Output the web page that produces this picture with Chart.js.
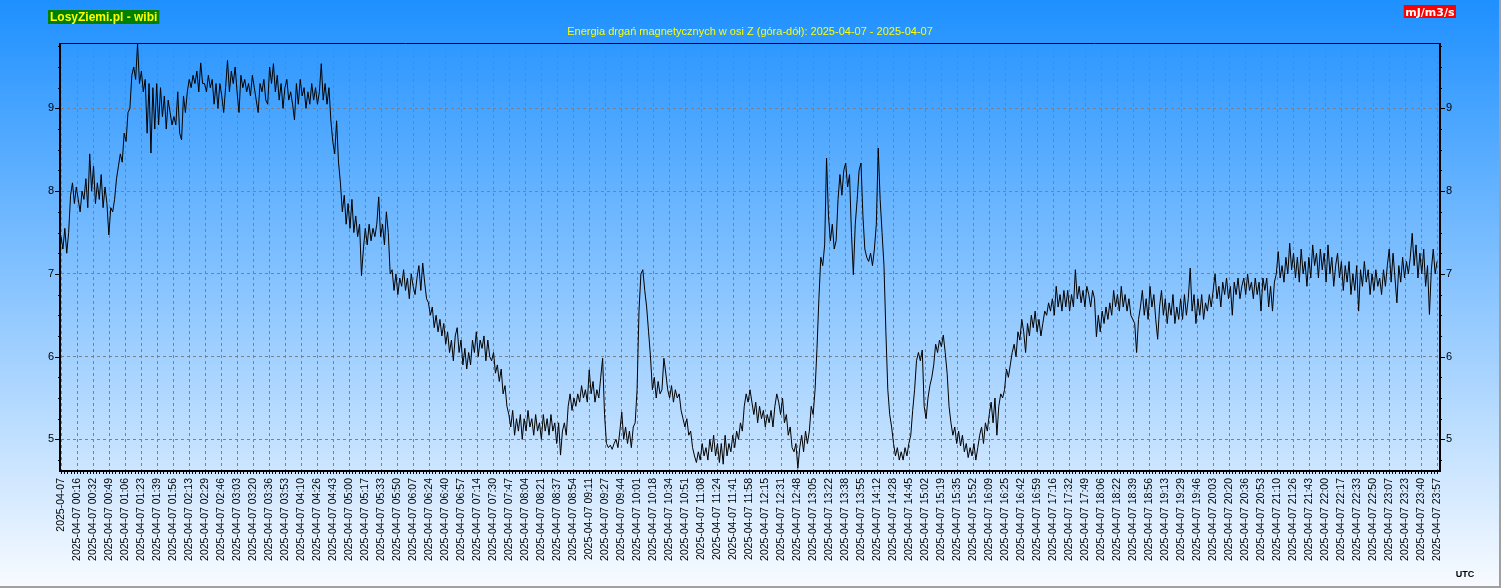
<!DOCTYPE html>
<html>
<head>
<meta charset="utf-8">
<script src="https://cdn.jsdelivr.net/npm/chart.js@4/dist/chart.umd.min.js"></script>
<style>
  html, body { margin: 0; padding: 0; background: #fff; }
  canvas { display: block; }
</style>
</head>
<body>
<canvas id="chart" width="1501" height="588"></canvas>
<script>
const siteLabel = 'LosyZiemi.pl - wibi';
const unitLabel = 'mJ/m3/s';
const titleText = 'Energia drgań magnetycznych w osi Z (góra-dół): 2025-04-07 - 2025-04-07';
const day = '2025-04-07';

// one reading every 2 minutes, each row is half an hour
const sampleStep = 2;

const energyNight = [ // 00:00 - 05:58
  7.45, 7.3, 7.55, 7.25, 7.5, 7.95, 8.1, 7.85, 8.05, 7.9, 7.75, 8.0, 7.9, 8.15, 7.8,
  8.45, 8.0, 8.3, 7.85, 8.1, 7.9, 8.2, 7.8, 8.05, 7.85, 7.47, 7.8, 7.75, 7.9, 8.15,
  8.3, 8.45, 8.35, 8.7, 8.6, 8.95, 9.0, 9.4, 9.5, 9.35, 9.78, 9.3, 9.45, 9.2, 9.35,
  8.7, 9.3, 8.46, 9.25, 8.75, 9.3, 8.8, 9.25, 8.9, 9.15, 8.75, 9.1, 8.95, 8.8, 8.9,
  8.8, 9.2, 8.7, 8.62, 9.15, 8.95, 9.2, 9.35, 9.25, 9.4, 9.3, 9.45, 9.2, 9.55, 9.3,
  9.3, 9.2, 9.4, 9.25, 9.35, 9.05, 9.3, 9.0, 9.3, 9.15, 8.95, 9.25, 9.58, 9.2, 9.45,
  9.3, 9.5, 9.2, 8.95, 9.4, 9.25, 9.35, 9.2, 9.3, 9.15, 9.4, 9.25, 9.1, 8.95, 9.3,
  9.2, 9.35, 9.1, 9.05, 9.5, 9.3, 9.54, 9.2, 9.4, 9.1, 9.3, 9.0, 9.25, 9.35, 9.1,
  9.2, 9.05, 8.86, 9.3, 9.05, 9.35, 9.15, 9.25, 9.0, 9.2, 9.05, 9.3, 9.1, 9.25, 9.05,
  9.2, 9.54, 9.1, 9.3, 9.05, 9.25, 8.86, 8.6, 8.45, 8.85, 8.35, 8.1, 7.75, 7.95, 7.6,
  7.85, 7.55, 7.9, 7.5, 7.7, 7.45, 7.6, 6.98, 7.3, 7.55, 7.35, 7.6, 7.4, 7.55, 7.45,
  7.6, 7.93, 7.45, 7.6, 7.35, 7.75, 7.5, 7.0, 7.05, 6.8, 7.0, 6.75, 6.95, 6.85, 7.05
];

const energyMorning = [ // 06:00 - 11:58
  6.8, 6.95, 6.7, 7.0, 6.85, 6.75, 6.95, 7.1, 6.8, 7.13, 6.9, 6.7, 6.65, 6.5, 6.6,
  6.35, 6.5, 6.3, 6.45, 6.25, 6.4, 6.15, 6.3, 6.05, 6.2, 5.95, 6.25, 6.35, 6.05, 6.2,
  5.9, 6.1, 5.85, 6.05, 5.9, 6.2, 6.05, 6.3, 6.0, 6.2, 6.1, 6.25, 5.95, 6.2, 6.0,
  5.95, 6.05, 5.8, 5.9, 5.7, 5.85, 5.55, 5.65, 5.4, 5.3, 5.15, 5.35, 5.05, 5.25, 5.1,
  5.3, 5.0, 5.25, 5.1, 5.35, 5.15, 5.25, 5.05, 5.3, 5.1, 5.2, 5.0, 5.3, 5.1, 5.25,
  5.05, 5.3, 5.1, 5.2, 4.95, 5.2, 4.81, 5.1, 5.2, 5.05, 5.4, 5.55, 5.35, 5.5, 5.4,
  5.55, 5.45, 5.65, 5.5, 5.6, 5.45, 5.84, 5.55, 5.7, 5.45, 5.6, 5.5, 5.75, 5.98, 5.3,
  4.95, 4.9, 4.93, 4.88, 4.95, 5.0, 4.9, 5.1, 5.33, 5.0, 5.15, 4.95, 5.1, 4.9, 5.15,
  5.2, 5.6, 6.55, 7.0, 7.05, 6.8, 6.6, 6.3, 6.0, 5.6, 5.75, 5.5, 5.7, 5.55, 5.6,
  5.98, 5.8, 5.6, 5.5, 5.65, 5.45, 5.6, 5.5, 5.55, 5.35, 5.25, 5.15, 5.25, 5.05, 5.1,
  4.9, 4.8, 4.72, 4.85, 4.75, 4.95, 4.8, 4.9, 4.75, 5.0, 4.85, 5.05, 4.8, 4.95, 4.72,
  4.95, 4.7, 5.05, 4.8, 4.95, 4.85, 5.05, 4.9, 5.1, 5.0, 5.2, 5.1, 5.4, 5.55, 5.45
];

const energyAfternoon = [ // 12:00 - 17:58
  5.6, 5.45, 5.3, 5.45, 5.2, 5.4, 5.25, 5.35, 5.15, 5.3, 5.2, 5.35, 5.15, 5.4, 5.55,
  5.45, 5.3, 5.5, 5.2, 5.3, 5.05, 5.15, 4.9, 4.85, 4.95, 4.65, 4.9, 5.05, 4.85, 5.1,
  4.95, 5.1, 5.4, 5.3, 5.6, 6.1, 6.7, 7.2, 7.1, 7.35, 8.4, 7.7, 7.4, 7.6, 7.3,
  7.4, 7.9, 8.2, 7.95, 8.25, 8.34, 8.05, 8.2, 7.5, 6.99, 7.6, 7.9, 8.25, 8.34, 7.7,
  7.3, 7.2, 7.15, 7.25, 7.1, 7.3, 7.6, 8.52, 7.9, 7.5, 7.1, 6.3, 5.6, 5.3, 5.15,
  4.95, 4.8, 4.9, 4.75, 4.85, 4.75, 4.9, 4.8, 4.95, 5.05, 5.35, 5.6, 5.95, 6.05, 5.95,
  6.08, 5.4, 5.25, 5.5, 5.65, 5.75, 5.9, 6.15, 6.05, 6.2, 6.12, 6.26, 6.05, 5.8, 5.4,
  5.2, 5.05, 5.15, 4.95, 5.1, 4.92, 5.05, 4.85, 4.95, 4.78, 4.9, 4.8, 4.95, 4.75, 4.9,
  5.05, 5.15, 4.95, 5.2, 5.1, 5.3, 5.45, 5.2, 5.5, 5.05, 5.4, 5.55, 5.5, 5.6, 5.85,
  5.75, 5.9, 6.05, 6.15, 6.0, 6.3, 6.2, 6.45, 6.3, 6.05, 6.4, 6.25, 6.5, 6.35, 6.55,
  6.3, 6.45, 6.25, 6.4, 6.55, 6.5, 6.65, 6.55, 6.7, 6.5, 6.85, 6.6, 6.75, 6.55, 6.8,
  6.6, 6.8, 6.55, 6.75, 6.6, 7.05, 6.7, 6.85, 6.65, 6.8, 6.6, 6.85, 6.75, 6.6, 6.8
];

const energyEvening = [ // 18:00 - 23:58
  6.7, 6.24, 6.5, 6.3, 6.55, 6.4, 6.6, 6.45, 6.65, 6.5, 6.8, 6.6, 6.75, 6.55, 6.85,
  6.6, 6.75, 6.55, 6.7, 6.5, 6.45, 6.4, 6.05, 6.45, 6.6, 6.8, 6.5, 6.7, 6.45, 6.85,
  6.6, 6.75, 6.45, 6.21, 6.6, 6.8, 6.5, 6.7, 6.4, 6.65, 6.5, 6.75, 6.4, 6.6, 6.45,
  6.7, 6.45, 6.75, 6.5, 6.7, 7.07, 6.55, 6.75, 6.4, 6.7, 6.5, 6.75, 6.45, 6.65, 6.55,
  6.75, 6.6, 6.8, 7.0, 6.7, 6.85, 6.6, 6.9, 6.75, 6.95, 6.7, 6.85, 6.5, 6.9, 6.75,
  6.95, 6.7, 6.85, 6.95, 6.75, 7.0, 6.8, 6.9, 6.7, 6.95, 6.75, 6.9, 6.55, 6.95, 6.8,
  6.95, 6.6, 6.85, 6.55, 6.9, 7.0, 7.27, 6.95, 7.1, 6.9, 7.2, 7.0, 7.37, 7.05, 7.25,
  6.95, 7.2, 6.9, 7.3, 7.0, 7.15, 6.85, 7.2, 6.95, 7.35, 7.1, 7.25, 6.95, 7.3, 7.05,
  7.25, 6.9, 7.35, 7.0, 7.2, 6.85, 7.1, 7.25, 6.95, 7.15, 6.8, 7.1, 6.9, 7.15, 6.75,
  7.0, 6.8, 7.1, 6.55, 7.05, 6.85, 7.15, 6.9, 7.05, 6.75, 7.0, 6.8, 7.05, 6.85, 6.95,
  6.75, 7.05, 6.85, 7.1, 7.3, 6.9, 7.25, 6.95, 6.65, 7.1, 6.9, 7.2, 6.95, 7.15, 7.0,
  7.2, 7.49, 7.1, 7.35, 6.95, 7.25, 7.0, 7.3, 6.85, 7.1, 6.51, 7.05, 7.3, 7.0, 7.15
];

// time labels under the x axis, first one shows only the date
const tickTimes = ['',
  '00:16', '00:32', '00:49', '01:06', '01:23', '01:39', '01:56', '02:13', '02:29', '02:46',
  '03:03', '03:20', '03:36', '03:53', '04:10', '04:26', '04:43', '05:00', '05:17', '05:33',
  '05:50', '06:07', '06:24', '06:40', '06:57', '07:14', '07:30', '07:47', '08:04', '08:21',
  '08:37', '08:54', '09:11', '09:27', '09:44', '10:01', '10:18', '10:34', '10:51', '11:08',
  '11:24', '11:41', '11:58', '12:15', '12:31', '12:48', '13:05', '13:22', '13:38', '13:55',
  '14:12', '14:28', '14:45', '15:02', '15:19', '15:35', '15:52', '16:09', '16:25', '16:42',
  '16:59', '17:16', '17:32', '17:49', '18:06', '18:22', '18:39', '18:56', '19:13', '19:29',
  '19:46', '20:03', '20:20', '20:36', '20:53', '21:10', '21:26', '21:43', '22:00', '22:17',
  '22:33', '22:50', '23:07', '23:23', '23:40', '23:57'
];
const tickStep = 16.72; // minutes between labels
const yTicks = [5, 6, 7, 8, 9];
const yMin = 4.63;
const yMax = 9.79;

const energy = [...energyNight, ...energyMorning, ...energyAfternoon, ...energyEvening];
const points = energy.map((v, i) => ({ x: i * sampleStep, y: v }));

const FONT = 'Arial, "Liberation Sans", sans-serif';

const decor = {
  id: 'decor',
  beforeDraw(chart) {
    const { ctx, width, height } = chart;
    const g = ctx.createLinearGradient(0, 0, 0, height);
    g.addColorStop(0, '#1e90ff');
    g.addColorStop(1, '#f8fbff');
    ctx.save();
    ctx.fillStyle = g;
    ctx.fillRect(0, 0, width, height);
    ctx.restore();
  },
  afterDatasetsDraw(chart) {
    const { ctx, chartArea: a, scales: { x, y } } = chart;
    ctx.save();
    ctx.strokeStyle = '#000';
    ctx.lineWidth = 1;
    ctx.beginPath();
    for (let v = 4.75; v <= yMax; v += 0.25) {
      const py = Math.round(y.getPixelForValue(v)) + 0.5;
      const len = Number.isInteger(v) ? 6 : 3;
      ctx.moveTo(a.left - len, py); ctx.lineTo(a.left, py);
      ctx.moveTo(a.right, py); ctx.lineTo(a.right + len, py);
    }
    for (let m = 0; m <= 1440; m += tickStep / 5) {
      const px = Math.round(x.getPixelForValue(m)) + 0.5;
      ctx.moveTo(px, a.bottom); ctx.lineTo(px, a.bottom + 4);
    }
    ctx.moveTo(a.left, a.top + 0.5); ctx.lineTo(a.right, a.top + 0.5);
    ctx.stroke();

    ctx.lineWidth = 2;
    ctx.beginPath();
    ctx.moveTo(a.left - 1, a.top);
    ctx.lineTo(a.left - 1, a.bottom + 1);
    ctx.lineTo(a.right + 1, a.bottom + 1);
    ctx.lineTo(a.right + 1, a.top);
    ctx.stroke();
    ctx.restore();
  },
  afterDraw(chart) {
    const { ctx, width, height } = chart;
    ctx.save();
    ctx.textBaseline = 'alphabetic';

    ctx.font = 'bold 12px ' + FONT;
    let w = ctx.measureText(siteLabel).width;
    ctx.fillStyle = '#008000';
    ctx.fillRect(48, 10, w + 4, 14);
    ctx.fillStyle = '#ffff00';
    ctx.textAlign = 'left';
    ctx.fillText(siteLabel, 50, 21);

    ctx.font = '11px ' + FONT;
    ctx.textAlign = 'center';
    ctx.fillStyle = '#ffff00';
    ctx.fillText(titleText, 750, 35);

    ctx.font = 'bold 11px "DejaVu Sans", Verdana, sans-serif';
    w = ctx.measureText(unitLabel).width;
    ctx.fillStyle = '#ff0000';
    ctx.fillRect(1456 - w - 3, 5, w + 3, 13);
    ctx.fillStyle = '#ffffff';
    ctx.textAlign = 'left';
    ctx.fillText(unitLabel, 1456 - w - 1.5, 15.5);

    ctx.font = 'bold 9px ' + FONT;
    ctx.fillStyle = '#000';
    ctx.textAlign = 'center';
    ctx.fillText('UTC', 1465, 577);

    ctx.fillStyle = '#a0a0a0';
    ctx.fillRect(width - 2, 0, 2, height);
    ctx.fillRect(0, height - 2, width, 2);
    ctx.restore();
  }
};

const gridStyle = { color: '#808080', lineWidth: 1, drawTicks: false };
const dashed = { display: false, dash: [3, 3] };

new Chart(document.getElementById('chart'), {
  type: 'line',
  data: {
    datasets: [{
      data: points,
      borderColor: '#000',
      borderWidth: 1,
      pointRadius: 0,
      tension: 0,
      fill: false,
      yAxisID: 'y'
    }]
  },
  options: {
    responsive: false,
    animation: false,
    devicePixelRatio: 1,
    events: [],
    layout: { padding: { top: 43, left: 0, right: 0, bottom: 0 } },
    plugins: { legend: { display: false }, tooltip: { enabled: false } },
    scales: {
      x: {
        type: 'linear',
        min: 0,
        max: 1440,
        grid: gridStyle,
        border: dashed,
        afterBuildTicks: s => { s.ticks = tickTimes.map((t, i) => ({ value: i * tickStep })); },
        afterFit: s => { s.height = 118; },
        ticks: {
          autoSkip: false,
          maxRotation: 90,
          minRotation: 90,
          padding: 8,
          color: '#000',
          font: { family: FONT, size: 10.5 },
          callback: (v, i) => i === 0 ? day : day + ' ' + tickTimes[i]
        }
      },
      y: {
        position: 'left',
        min: yMin,
        max: yMax,
        grid: gridStyle,
        border: dashed,
        afterBuildTicks: s => { s.ticks = yTicks.map(v => ({ value: v })); },
        afterFit: s => { s.width = 61; },
        ticks: { padding: 7, color: '#000', font: { family: FONT, size: 11 } }
      },
      y2: {
        position: 'right',
        min: yMin,
        max: yMax,
        grid: { display: false, drawTicks: false },
        border: { display: false },
        afterBuildTicks: s => { s.ticks = yTicks.map(v => ({ value: v })); },
        afterFit: s => { s.width = 62; },
        ticks: { padding: 7, color: '#000', font: { family: FONT, size: 11 } }
      }
    }
  },
  plugins: [decor]
});
</script>
</body>
</html>
